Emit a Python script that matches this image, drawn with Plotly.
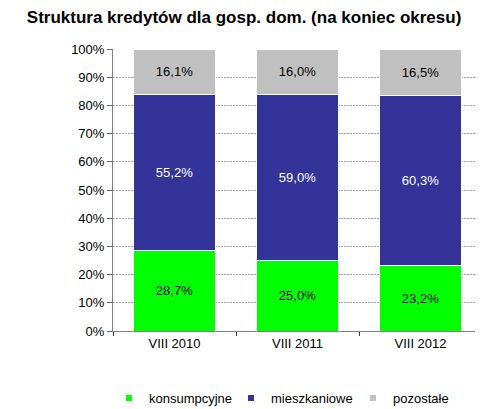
import plotly.graph_objects as go

categories = ["VIII 2010", "VIII 2011", "VIII 2012"]
konsumpcyjne = [28.7, 25.0, 23.2]
mieszkaniowe = [55.2, 59.0, 60.3]
pozostale = [16.1, 16.0, 16.5]
series_names = ["konsumpcyjne", "mieszkaniowe", "pozostałe"]
colors = ["#00FF00", "#333399", "#C0C0C0"]
text_colors = ["black", "white", "black"]
tick_vals = [0, 10, 20, 30, 40, 50, 60, 70, 80, 90, 100]
tick_text = [f"{v}%" for v in tick_vals]

FONT = "Liberation Sans, Arial"

def fmt(v):
    return f"{v:.1f}".replace(".", ",") + "%"

fig = go.Figure()
for name, vals, col, tcol in zip(series_names, [konsumpcyjne, mieszkaniowe, pozostale], colors, text_colors):
    fig.add_trace(go.Bar(
        x=categories, y=vals, name=name,
        marker=dict(color=col, line=dict(color="white", width=1)),
        text=[fmt(v) for v in vals], textposition="inside", insidetextanchor="middle",
        textfont=dict(color=tcol, size=13, family=FONT),
        showlegend=False, width=0.66,
    ))
for name, col in zip(series_names, colors):
    fig.add_trace(go.Scatter(
        x=[None], y=[None], mode="markers", name=name,
        marker=dict(symbol="square", size=6, color=col),
    ))

fig.update_layout(
    barmode="stack",
    width=475, height=401,
    margin=dict(l=105, r=1, t=41, b=78),
    paper_bgcolor="white", plot_bgcolor="white",
    font=dict(family=FONT, size=13, color="black"),
    title=dict(text="<b>Struktura kredytów dla gosp. dom. (na koniec okresu)</b>",
               x=0.497, xanchor="center", xref="container", y=0.978, yanchor="middle", yref="container",
               font=dict(size=17, family=FONT, color="black")),
    legend=dict(orientation="h", x=0.2126, xanchor="left", xref="container",
                y=0.027, yanchor="middle", yref="container",
                font=dict(size=13, family=FONT), traceorder="normal",
                entrywidth=77, entrywidthmode="pixels", itemsizing="trace",
                bgcolor="rgba(0,0,0,0)"),
)
fig.update_yaxes(range=[0, 100], tickvals=tick_vals, ticktext=tick_text,
                 showgrid=True, gridcolor="#A6A6A6", griddash="2px,1px", gridwidth=1,
                 showline=True, linecolor="#808080", linewidth=1,
                 ticks="outside", ticklen=5, tickcolor="#606060", zeroline=False,
                 tickfont=dict(size=13))
fig.update_xaxes(showline=True, linecolor="#808080", linewidth=1,
                 ticks="outside", ticklen=4, tickcolor="#404040", tickson="boundaries",
                 showgrid=False, tickfont=dict(size=13))

fig.write_html("out.html")
